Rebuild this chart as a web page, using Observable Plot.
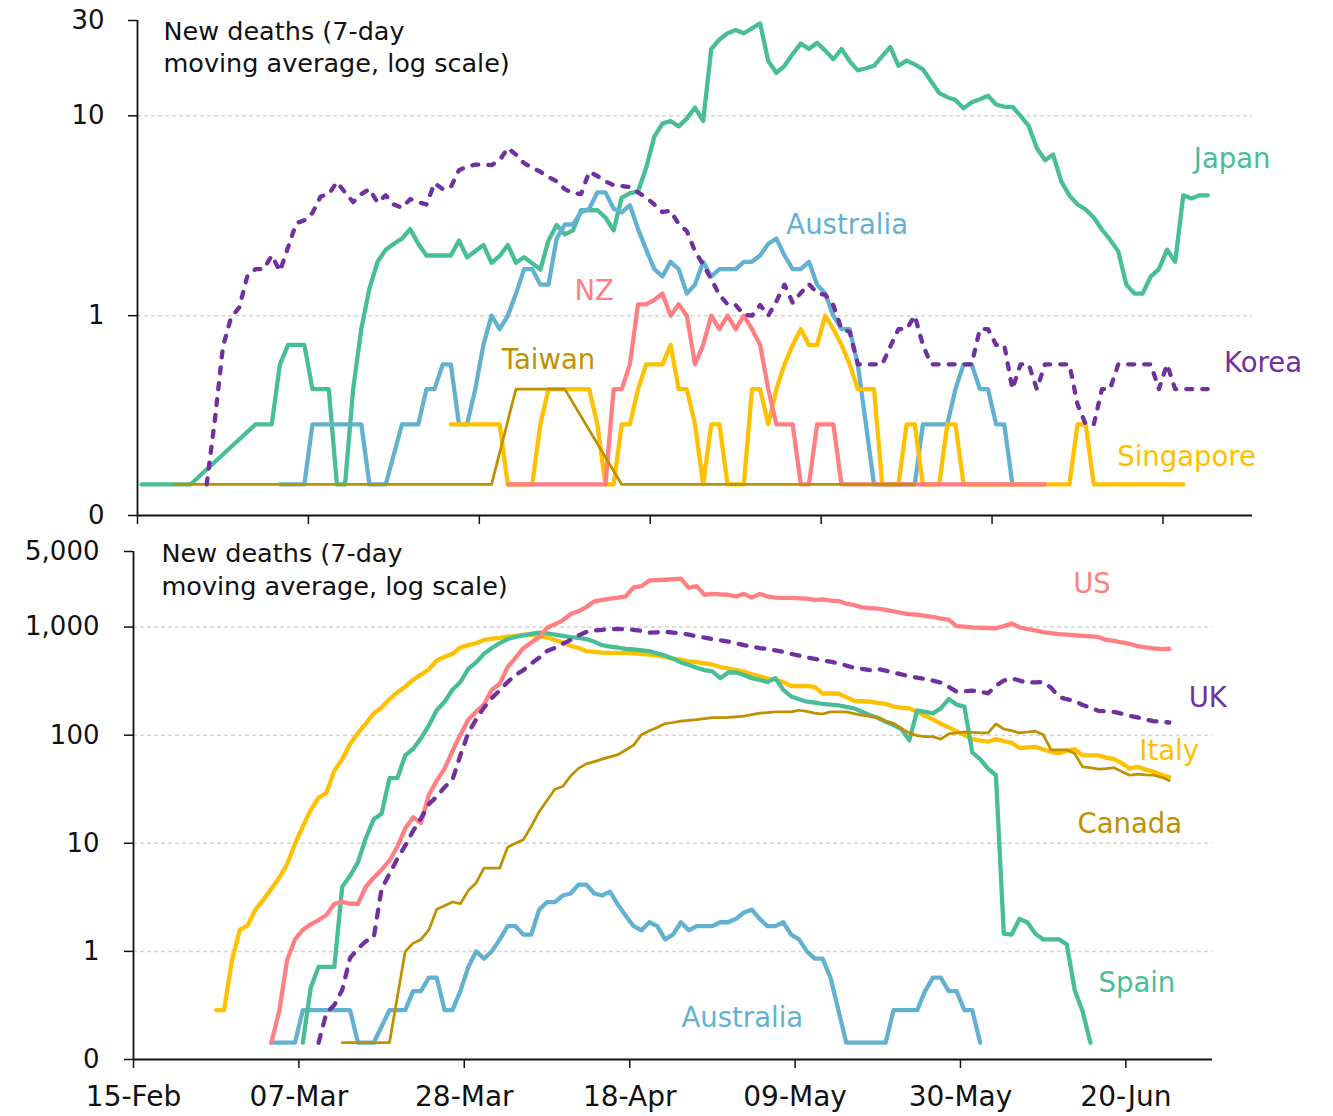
<!DOCTYPE html>
<html><head><meta charset="utf-8">
<script src="https://cdn.jsdelivr.net/npm/d3@7"></script>
<script src="https://cdn.jsdelivr.net/npm/@observablehq/plot@0.6"></script>
<style>
html,body{margin:0;padding:0;background:#fff;}
#chart svg{display:block;}
</style></head><body><div id="chart"></div>
<script>
// Days are counted from 15-Feb-2020; values are 7-day moving averages of new deaths.
const startDate = Date.UTC(2020, 1, 15);
const tickDays = [0, 21, 42, 63, 84, 105, 126];
const endDay = 137;

// ---- Top panel ----
const japan = [[0,0.143],[6,0.143],[14,0.286],[16,0.286],[17,0.571],[18,0.714],[20,0.714],[21,0.429],[23,0.429],[24,0.143],[25,0.143],[26,0.43],[27,0.86],[28,1.37],[29,1.86],[30,2.14],[31,2.29],[32,2.43],[33,2.71],[34,2.29],[35,2.0],[36,2.0],[37,2.0],[38,2.0],[39,2.38],[40,1.96],[41,2.1],[42,2.26],[43,1.84],[44,1.99],[45,2.26],[46,1.84],[47,1.96],[48,1.83],[49,1.7],[50,2.38],[51,2.84],[52,2.55],[53,2.67],[54,3.37],[55,3.37],[56,3.37],[57,3.1],[58,2.67],[59,3.9],[60,4.1],[61,4.18],[62,5.5],[63,7.86],[64,9.14],[65,9.43],[66,8.86],[67,9.71],[68,11.0],[69,9.43],[70,21.6],[71,24.1],[72,25.9],[73,26.9],[74,25.9],[75,27.4],[76,29.0],[77,18.8],[78,16.4],[79,17.8],[80,20.4],[81,23.0],[82,21.6],[83,23.2],[84,21.2],[85,19.2],[86,21.6],[87,18.8],[88,16.9],[89,17.3],[90,17.8],[91,19.9],[92,22.1],[93,17.8],[94,18.9],[95,18.1],[96,17.1],[97,14.9],[98,13.0],[99,12.4],[100,12.0],[101,10.9],[102,11.7],[103,12.1],[104,12.6],[105,11.4],[106,11.1],[107,11.1],[108,10.0],[109,8.9],[110,6.9],[111,6.0],[112,6.4],[113,4.7],[114,4.0],[115,3.6],[116,3.4],[117,3.1],[118,2.7],[119,2.4],[120,2.1],[121,1.43],[122,1.29],[123,1.29],[124,1.57],[125,1.71],[126,2.14],[127,1.86],[128,4.0],[129,3.86],[130,4.0],[131,4.0]];
const korea = [[8,0.143],[9,0.3],[10,0.7],[11,0.98],[12,1.1],[13,1.58],[14,1.71],[15,1.71],[16,2.0],[17,1.67],[18,2.2],[19,2.9],[20,3.0],[21,3.27],[22,3.95],[23,4.06],[24,4.66],[25,4.14],[26,3.7],[27,4.06],[28,4.3],[29,3.68],[30,4.0],[31,3.6],[32,3.47],[33,3.83],[34,3.7],[35,3.6],[36,4.6],[37,4.3],[38,4.4],[39,5.35],[40,5.57],[41,5.7],[42,5.7],[43,5.67],[44,6.0],[45,6.9],[46,6.4],[47,5.8],[48,5.5],[49,5.25],[50,4.95],[51,4.7],[52,4.3],[53,4.1],[54,4.06],[55,5.25],[56,5.0],[57,4.7],[58,4.5],[59,4.45],[60,4.4],[61,4.14],[62,3.9],[63,3.6],[64,3.3],[65,3.35],[66,2.87],[67,2.65],[68,2.1],[69,1.8],[70,1.52],[71,1.27],[72,1.14],[73,1.13],[74,1.01],[75,1.0],[76,1.13],[77,1.0],[78,1.18],[79,1.43],[80,1.16],[81,1.3],[82,1.44],[83,1.3],[84,1.27],[85,1.13],[86,0.857],[87,0.83],[88,0.571],[89,0.571],[90,0.571],[91,0.571],[92,0.7],[93,0.857],[94,0.857],[95,1.0],[96,0.714],[97,0.571],[98,0.571],[99,0.571],[100,0.571],[101,0.571],[102,0.571],[103,0.857],[104,0.857],[105,0.714],[106,0.714],[107,0.429],[108,0.571],[109,0.571],[110,0.429],[111,0.571],[112,0.571],[113,0.571],[114,0.571],[115,0.36],[116,0.286],[117,0.286],[118,0.429],[119,0.429],[120,0.571],[121,0.571],[122,0.571],[123,0.571],[124,0.571],[125,0.429],[126,0.571],[127,0.429],[128,0.429],[129,0.429],[130,0.429],[131,0.429]];
const australia = [[17,0.143],[20,0.143],[21,0.286],[27,0.286],[28,0.143],[30,0.143],[32,0.286],[34,0.286],[35,0.429],[36,0.429],[37,0.571],[38,0.571],[39,0.286],[40,0.286],[41,0.429],[42,0.714],[43,1.0],[44,0.857],[45,1.0],[46,1.29],[47,1.71],[48,1.71],[49,1.43],[50,1.43],[51,2.43],[52,2.86],[53,2.86],[54,3.29],[55,3.43],[56,4.14],[57,4.14],[58,3.43],[59,3.29],[60,3.57],[61,2.71],[62,2.14],[63,1.71],[64,1.57],[65,1.86],[66,1.71],[67,1.29],[68,1.43],[69,1.86],[70,1.57],[71,1.71],[72,1.71],[73,1.71],[74,1.86],[75,1.86],[76,2.0],[77,2.29],[78,2.43],[79,2.0],[80,1.71],[81,1.71],[82,1.86],[83,1.43],[84,1.29],[85,1.0],[86,0.857],[87,0.857],[88,0.571],[89,0.286],[90,0.143],[95,0.143],[96,0.286],[99,0.286],[100,0.429],[101,0.571],[102,0.571],[103,0.429],[104,0.429],[105,0.286],[106,0.286],[107,0.143]];
const nz = [[45,0.143],[57,0.143],[58,0.429],[59,0.429],[60,0.571],[61,1.14],[62,1.14],[63,1.2],[64,1.29],[65,1.0],[66,1.14],[67,1.0],[68,0.571],[69,0.714],[70,1.0],[71,0.857],[72,1.0],[73,0.857],[74,1.0],[75,0.857],[76,0.714],[77,0.429],[78,0.286],[79,0.286],[80,0.286],[81,0.143],[82,0.143],[83,0.286],[84,0.286],[85,0.286],[86,0.143],[111,0.143]];
const taiwan = [[4,0.143],[43,0.143],[46,0.429],[52,0.429],[59,0.143],[95,0.143]];
const singapore = [[38,0.286],[44,0.286],[45,0.143],[48,0.143],[49,0.286],[50,0.429],[55,0.429],[56,0.286],[57,0.143],[58,0.143],[59,0.286],[60,0.286],[61,0.429],[62,0.571],[63,0.571],[64,0.571],[65,0.714],[66,0.429],[67,0.429],[68,0.286],[69,0.143],[70,0.286],[71,0.286],[72,0.143],[74,0.143],[75,0.429],[76,0.429],[77,0.286],[78,0.429],[79,0.571],[80,0.714],[81,0.857],[82,0.714],[83,0.714],[84,1.0],[85,0.857],[86,0.714],[87,0.571],[88,0.429],[89,0.429],[90,0.429],[91,0.143],[93,0.143],[94,0.286],[95,0.286],[96,0.143],[98,0.143],[99,0.286],[100,0.286],[101,0.143],[114,0.143],[115,0.286],[116,0.286],[117,0.143],[128,0.143]];

// ---- Bottom panel ----
const italy = [[10,0.286],[11,0.286],[12,0.83],[13,1.58],[14,1.74],[15,2.45],[16,3.0],[17,3.8],[18,4.8],[19,6.4],[20,9.9],[21,14.3],[22,20.4],[23,26.4],[24,29.3],[25,47],[26,60],[27,83],[28,105],[29,128],[30,159],[31,180],[32,216],[33,249],[34,281],[35,326],[36,363],[37,408],[38,491],[39,530],[40,565],[41,647],[42,680],[43,710],[44,760],[45,780],[46,795],[47,815],[48,830],[49,851],[50,845],[51,825],[52,800],[53,760],[54,720],[55,670],[56,640],[57,600],[58,590],[59,580],[60,577],[61,577],[62,577],[63,570],[64,565],[65,555],[66,545],[67,530],[68,511],[69,500],[70,482],[71,475],[72,464],[73,450],[74,427],[75,415],[76,400],[77,387],[78,365],[79,350],[80,334],[81,329],[82,310],[83,285],[84,285],[85,285],[86,280],[87,243],[88,243],[89,243],[90,225],[91,208],[92,206],[93,204],[94,199],[95,195],[96,184],[97,180],[98,177],[99,165],[100,151],[101,140],[102,128],[103,118],[104,109],[105,100],[106,92],[107,89],[108,87],[109,92],[110,88],[111,85],[112,76],[113,77],[114,78],[115,74],[116,70],[117,68],[118,72],[119,74],[120,65],[121,65],[122,65],[123,62],[124,60],[125,55],[126,49],[127,51],[128,48],[129,46],[130,43],[131,41]];
const spain = [[21,0.143],[22,0.46],[23,0.72],[24,0.72],[25,0.72],[26,3.96],[27,5.0],[28,6.7],[29,11.2],[30,16.7],[31,18.8],[32,40],[33,40],[34,65],[35,74.5],[36,93.5],[37,123],[38,170],[39,204],[40,263],[41,310],[42,410],[43,471],[44,567],[45,640],[46,710],[47,775],[48,810],[49,837],[50,865],[51,890],[52,875],[53,851],[54,830],[55,806],[56,795],[57,775],[58,730],[59,680],[60,660],[61,647],[62,627],[63,620],[64,610],[65,599],[66,570],[67,545],[68,510],[69,471],[70,445],[71,420],[72,400],[73,389],[74,337],[75,380],[76,380],[77,360],[78,337],[79,325],[80,310],[81,337],[82,263],[83,228],[84,215],[85,204],[86,200],[87,195],[88,192],[89,189],[90,183],[91,177],[92,165],[93,153],[94,145],[95,133],[96,124],[97,114],[98,89.5],[99,169],[100,164],[101,159],[102,177],[103,216],[104,192],[105,184],[106,69],[107,60],[108,49],[109,42.6],[110,1.46],[111,1.43],[112,2.0],[113,1.85],[114,1.46],[115,1.29],[116,1.29],[117,1.29],[118,1.16],[119,0.44],[120,0.28],[121,0.143]];
const us = [[17,0.143],[18,0.28],[19,0.83],[20,1.29],[21,1.58],[22,1.78],[23,1.95],[24,2.17],[25,2.76],[26,2.87],[27,2.76],[28,2.76],[29,3.96],[30,4.8],[31,5.7],[32,6.9],[33,9.3],[34,13.7],[35,17.4],[36,15.4],[37,28],[38,38],[39,49],[40,71],[41,101],[42,139],[43,165],[44,192],[45,263],[46,300],[47,426],[48,520],[49,637],[50,720],[51,806],[52,985],[53,1060],[54,1155],[55,1320],[56,1400],[57,1530],[58,1730],[59,1780],[60,1830],[61,1870],[62,1920],[63,2330],[64,2390],[65,2700],[66,2720],[67,2740],[68,2770],[69,2810],[70,2300],[71,2390],[72,1990],[73,2030],[74,2010],[75,1990],[76,1920],[77,2030],[78,1870],[79,2030],[80,1920],[81,1870],[82,1865],[83,1860],[84,1845],[85,1830],[86,1780],[87,1800],[88,1760],[89,1740],[90,1650],[91,1600],[92,1520],[93,1500],[94,1480],[95,1440],[96,1400],[97,1350],[98,1320],[99,1300],[100,1270],[101,1240],[102,1200],[103,1170],[104,1020],[105,1010],[106,995],[107,985],[108,980],[109,975],[110,1020],[111,1080],[112,995],[113,960],[114,930],[115,900],[116,880],[117,860],[118,850],[119,840],[120,830],[121,820],[122,810],[123,760],[124,745],[125,720],[126,700],[127,665],[128,650],[129,635],[130,625],[131,630]];
const uk = [[23,0.143],[24,0.27],[25,0.32],[26,0.44],[27,0.87],[28,1.06],[29,1.24],[30,1.34],[31,3.8],[32,5.2],[33,7.2],[34,9.5],[35,13],[36,17],[37,23],[38,27],[39,33],[40,38.8],[41,65],[42,105],[43,140],[44,180],[45,220],[46,260],[47,310],[48,360],[49,400],[50,460],[51,520],[52,600],[53,640],[54,700],[55,760],[56,837],[57,900],[58,930],[59,944],[60,950],[61,960],[62,955],[63,944],[64,920],[65,887],[66,895],[67,905],[68,890],[69,875],[70,850],[71,820],[72,800],[73,775],[74,755],[75,735],[76,710],[77,680],[78,660],[79,640],[80,625],[81,610],[82,590],[83,565],[84,545],[85,522],[86,508],[87,493],[88,478],[89,463],[90,440],[91,420],[92,410],[93,400],[94,410],[95,395],[96,380],[97,365],[98,351],[99,340],[100,332],[101,320],[102,306],[103,280],[104,253],[105,255],[106,258],[107,252],[108,244],[109,286],[110,320],[111,335],[112,320],[113,306],[114,308],[115,310],[116,275],[117,226],[118,215],[119,208],[120,190],[121,180],[122,168],[123,166],[124,164],[125,158],[126,151],[127,146],[128,139],[129,135],[130,133],[131,131]];
const canada = [[26,0.143],[32,0.143],[34,1.0],[35,1.19],[36,1.29],[37,1.58],[38,2.45],[39,2.65],[40,2.87],[41,2.76],[42,3.65],[43,4.3],[44,5.9],[45,5.9],[46,5.9],[47,9.2],[48,10],[49,10.8],[50,14.3],[51,19.6],[52,24.9],[53,31.6],[54,33.5],[55,41.9],[56,49.3],[57,54.3],[58,57],[59,60],[60,63],[61,66],[62,73],[63,81],[64,101],[65,110],[66,118],[67,128],[68,131],[69,135],[70,137],[71,139],[72,142],[73,145],[74,145],[75,146],[76,148],[77,150],[78,155],[79,160],[80,162],[81,164],[82,164],[83,164],[84,170],[85,166],[86,160],[87,157],[88,164],[89,164],[90,164],[91,158],[92,153],[93,149],[94,145],[95,135],[96,129],[97,115],[98,105],[99,99],[100,97],[101,97],[102,92],[103,103],[104,105],[105,107],[106,106],[107,105],[108,105],[109,127],[110,114],[111,110],[112,105],[113,107],[114,109],[115,101],[116,73],[117,73],[118,73],[119,67.6],[120,51],[121,50],[122,48.5],[123,49],[124,50],[125,46],[126,42.6],[127,43.6],[128,43],[129,42.6],[130,41],[131,38]];

// Series name labels (day from 15-Feb, value)
const topLabels = [
  {name: "Japan", day: 134.5, value: 6.08},
  {name: "Australia", day: 87.2, value: 2.83},
  {name: "NZ", day: 56.1, value: 1.32},
  {name: "Taiwan", day: 50.5, value: 0.60},
  {name: "Korea", day: 138.3, value: 0.58},
  {name: "Singapore", day: 128.9, value: 0.196}
];
const bottomLabels = [
  {name: "US", day: 121.7, value: 2485},
  {name: "UK", day: 136.4, value: 221},
  {name: "Italy", day: 131.5, value: 71},
  {name: "Canada", day: 126.5, value: 14.9},
  {name: "Spain", day: 127.4, value: 0.504},
  {name: "Australia", day: 77.3, value: 0.243}
];
const topTicks = [0.1, 1, 10, 30];
const bottomTicks = [0.1, 1, 10, 100, 1000, 5000];
const titleText = "New deaths (7-day\nmoving average, log scale)";

const colors = {
  Japan: "#48BE96", Spain: "#48BE96",
  Korea: "#7030A0", UK: "#7030A0",
  Australia: "#63B1D0",
  NZ: "#FF7F82", US: "#FF7F82",
  Singapore: "#FFC000", Italy: "#FFC000",
  Taiwan: "#BF9000", Canada: "#BF9000"
};

const DAY = 864e5;
const axisDate = n => new Date(startDate + n * DAY);
const pointDate = n => new Date(startDate + (n + 0.5) * DAY); // daily values sit at mid-day
const rows = arr => arr.map(([n, v]) => ({date: pointDate(n), v}));
const yFmt = v => v < 0.5 ? "0" : d3.format(",")(Math.round(v));
const font = "'DejaVu Sans', sans-serif";

function seriesLine(arr, name, opts = {}) {
  return Plot.line(rows(arr), {
    x: "date", y: "v", stroke: colors[name],
    strokeWidth: opts.thin ? 2.75 : 4.3,
    strokeLinejoin: "round", strokeLinecap: "round",
    strokeDasharray: opts.dashed || null
  });
}
function labelMarks(labels) {
  return labels.map(l => Plot.text([l], {
    x: d => axisDate(d.day), y: "value", text: "name",
    fill: colors[l.name], fontSize: 27.5, textAnchor: "middle"
  }));
}

const xCommon = {type: "utc", domain: [axisDate(0), axisDate(endDay)], axis: null};

const topChart = Plot.plot({
  width: 1333, height: 530,
  marginLeft: 137, marginRight: 81, marginTop: 20, marginBottom: 15,
  style: {fontFamily: font, fontSize: "26px", color: "#111", background: "#fff"},
  x: xCommon,
  y: {type: "log", domain: [0.1, 30], axis: null},
  marks: [
    Plot.ruleY([1, 10], {stroke: "#d4d4d4", strokeWidth: 1.5, strokeDasharray: "4,3"}),
    seriesLine(japan, "Japan"),
    seriesLine(australia, "Australia"),
    seriesLine(singapore, "Singapore"),
    seriesLine(nz, "NZ"),
    seriesLine(taiwan, "Taiwan", {thin: true}),
    seriesLine(korea, "Korea", {dashed: "6,10"}),
    ...labelMarks(topLabels),
    Plot.text([titleText], {frameAnchor: "top-left", dx: 26, dy: -3, textAnchor: "start", lineAnchor: "top", fontSize: 25.5, lineHeight: 1.24, fill: "#111"}),
    Plot.axisY(topTicks, {tickFormat: yFmt, tickSize: 9, tickPadding: 24, fontSize: 26, stroke: "#111", strokeWidth: 1.5}),
    Plot.axisX({ticks: tickDays.map(axisDate), tickFormat: () => "", tickSize: 9, stroke: "#111", strokeWidth: 1.5}),
    Plot.ruleX([axisDate(0)], {stroke: "#111", strokeWidth: 1.8}),
    Plot.ruleY([0.1], {stroke: "#111", strokeWidth: 1.8})
  ]
});

const bottomChart = Plot.plot({
  width: 1333, height: 586,
  marginLeft: 133, marginRight: 121, marginTop: 21, marginBottom: 57,
  style: {fontFamily: font, fontSize: "26px", color: "#111", background: "#fff"},
  x: xCommon,
  y: {type: "log", domain: [0.1, 5000], axis: null},
  marks: [
    Plot.ruleY([1, 10, 100, 1000], {stroke: "#d4d4d4", strokeWidth: 1.5, strokeDasharray: "4,3"}),
    seriesLine(australia, "Australia"),
    seriesLine(italy, "Italy"),
    seriesLine(spain, "Spain"),
    seriesLine(us, "US"),
    seriesLine(canada, "Canada", {thin: true}),
    seriesLine(uk, "UK", {dashed: "8,10"}),
    ...labelMarks(bottomLabels),
    Plot.text([titleText], {frameAnchor: "top-left", dx: 28, dy: -13, textAnchor: "start", lineAnchor: "top", fontSize: 25.5, lineHeight: 1.3, fill: "#111"}),
    Plot.axisY(bottomTicks, {tickFormat: yFmt, tickSize: 9, tickPadding: 25, fontSize: 26, stroke: "#111", strokeWidth: 1.5}),
    // Plot's log axis drops the 5,000 label, so it is drawn as a plain text mark at y = 5000.
    Plot.text([5000], {y: d => d, frameAnchor: "left", text: yFmt, textAnchor: "end", dx: -34, fontSize: 26, fill: "#111"}),
    Plot.axisX({ticks: tickDays.map(axisDate), tickFormat: d3.utcFormat("%d-%b"), tickSize: 9, tickPadding: 18, fontSize: 28, stroke: "#111", strokeWidth: 1.5}),
    Plot.ruleX([axisDate(0)], {stroke: "#111", strokeWidth: 1.8}),
    Plot.ruleY([0.1], {stroke: "#111", strokeWidth: 1.8})
  ]
});

document.getElementById("chart").append(topChart, bottomChart);
</script>
</body></html>
